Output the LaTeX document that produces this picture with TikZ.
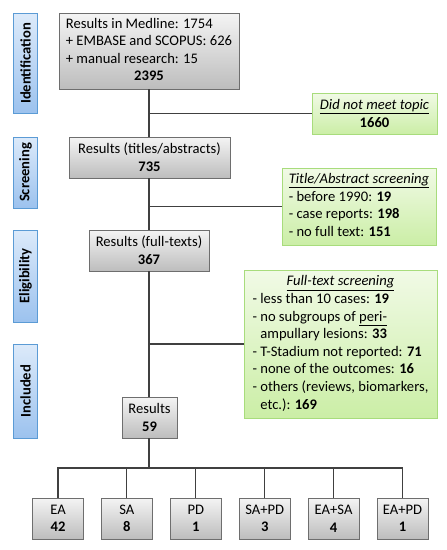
\documentclass[tikz,border=0pt]{standalone}
\usepackage{fontspec}
\setmainfont{Carlito}
\usepackage{xcolor}
\usepackage{tikz}
\usetikzlibrary{positioning}
\definecolor{linegray}{HTML}{404040}
\definecolor{framegray}{HTML}{6E6E6E}
\definecolor{boxtop}{HTML}{F4F4F4}
\definecolor{boxbottom}{HTML}{BDBDBD}
\definecolor{greentop}{HTML}{F1FAE6}
\definecolor{greenbottom}{HTML}{CBEEA6}
\definecolor{greenframe}{HTML}{A8DC7C}
\definecolor{bluelight}{HTML}{DCEAFA}
\definecolor{bluedark}{HTML}{9CC2EE}
\definecolor{blueframe}{HTML}{5B9BD5}
\newcommand{\flowfont}{\fontsize{14.6}{17.6}\selectfont}

\begin{document}
\begin{tikzpicture}[
  x=1pt, y=-1pt,
  font=\flowfont,
  recbox/.style={draw=framegray, line width=0.9pt, top color=boxtop, bottom color=boxbottom, inner sep=2pt, align=center},
  exclbox/.style={draw=greenframe, line width=0.9pt, top color=greentop, bottom color=greenbottom, inner sep=2pt, align=center},
  phase/.style={draw=blueframe, line width=0.9pt, top color=bluelight, bottom color=bluedark, rotate=90, minimum height=24pt, inner sep=0pt, font=\flowfont\bfseries},
  link/.style={draw=linegray, line width=1.1pt}
]
\useasboundingbox (0,0) rectangle (447,550);

% phases
\node[phase, minimum width=100pt] (ident) at (25.5,63.5) {Identification};
\node[phase, minimum width=71pt] (screen) at (25.5,172.5) {Screening};
\node[phase, minimum width=92pt] (elig) at (25.5,276) {Eligibility};
\node[phase, minimum width=94pt] (incl) at (25.5,391) {Included};

% records
\node[recbox, minimum width=180pt, minimum height=76pt] (rec) at (149,51) {%
  \begin{tabular}{@{}l@{}}
  Results in Medline: 1754\\
  + EMBASE and SCOPUS: 626\\
  + manual research: 15\\
  \multicolumn{1}{@{}c@{}}{\textbf{2395}}
  \end{tabular}};
\node[recbox, minimum width=161pt, minimum height=41pt] (titles) at (149.5,157.5) {Results (titles/abstracts)\\\textbf{735}};
\node[recbox, minimum width=120pt, minimum height=41pt] (full) at (149,250.5) {Results (full-texts)\\\textbf{367}};
\node[recbox, minimum width=55pt, minimum height=41pt] (res) at (149.5,417.5) {Results\\\textbf{59}};

% exclusions
\node[exclbox, minimum width=125pt, minimum height=41pt] (topic) at (374.5,113.5) {\underline{\textit{Did not meet topic}}\\\textbf{1660}};
\node[exclbox, minimum width=154pt, minimum height=77pt] (tiabs) at (359,206.5) {%
  \begin{tabular}{@{}l@{}}
  \multicolumn{1}{@{}c@{}}{\underline{\textit{Title/Abstract screening}}}\\
  - before 1990: \textbf{19}\\
  - case reports: \textbf{198}\\
  - no full text: \textbf{151}
  \end{tabular}};
\node[exclbox, minimum width=193pt, minimum height=148pt] (ftscr) at (340.5,344) {%
  \begin{tabular}{@{}l@{}}
  \multicolumn{1}{@{}c@{}}{\underline{\textit{Full-text screening}}}\\
  - less than 10 cases: \textbf{19}\\
  - no subgroups of \underline{peri-}\\
  \phantom{- }ampullary lesions: \textbf{33}\\
  - T-Stadium not reported: \textbf{71}\\
  - none of the outcomes: \textbf{16}\\
  - others (reviews, biomarkers,\\
  \phantom{- }etc.): \textbf{169}
  \end{tabular}};

% subgroups
\node[recbox, minimum width=51pt, minimum height=41pt] (ea) at (58,518.5) {EA\\\textbf{42}};
\node[recbox, minimum width=51pt, minimum height=41pt, right=17pt of ea] (sa) {SA\\\textbf{8}};
\node[recbox, minimum width=51pt, minimum height=41pt, right=17pt of sa] (pd) {PD\\\textbf{1}};
\node[recbox, minimum width=51pt, minimum height=41pt, right=17pt of pd] (sapd) {SA+PD\\\textbf{3}};
\node[recbox, minimum width=51pt, minimum height=41pt, right=17pt of sapd] (easa) {EA+SA\\\textbf{4}};
\node[recbox, minimum width=51pt, minimum height=41pt, right=17pt of easa] (eapd) {EA+PD\\\textbf{1}};

% connectors
\coordinate (j1) at (149,113.5);
\coordinate (j2) at (149,206.5);
\coordinate (j3) at (149,344);
\coordinate (bus) at (149,468);
\draw[link] (rec.south -| j1) -- (titles.north -| j1);
\draw[link] (titles.south -| j1) -- (full.north -| j1);
\draw[link] (full.south -| j1) -- (res.north -| j1);
\draw[link] (j1) -- (topic.west);
\draw[link] (j2) -- (tiabs.west);
\draw[link] (j3) -- (ftscr.west);
\draw[link] (res.south -| bus) -- (bus);
\foreach \g in {ea,sa,pd,sapd,easa,eapd}
  \draw[link] (bus) -| (\g.north);
\end{tikzpicture}
\end{document}
